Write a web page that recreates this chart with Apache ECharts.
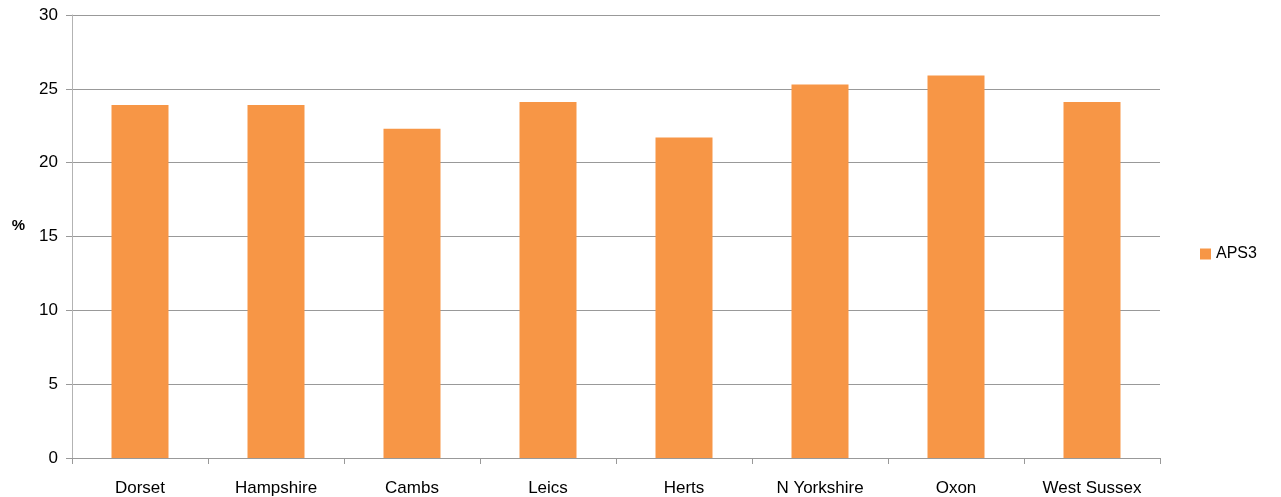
<!DOCTYPE html>
<html>
<head>
<meta charset="utf-8">
<script src="https://cdn.jsdelivr.net/npm/echarts@6/dist/echarts.min.js"></script>
<style>
html,body{margin:0;padding:0;background:#fff;}
#chart{width:1281px;height:497px;}
</style>
</head>
<body>
<div id="chart"></div>
<script>
const categories = ['Dorset', 'Hampshire', 'Cambs', 'Leics', 'Herts', 'N Yorkshire', 'Oxon', 'West Sussex'];
const aps3Values = [23.9, 23.9, 22.3, 24.1, 21.7, 25.3, 25.9, 24.1];
const seriesName = 'APS3';
const yTicks = [0, 5, 10, 15, 20, 25, 30];

const chart = echarts.init(document.getElementById('chart'), null, {renderer: 'canvas'});
const font = '"Liberation Sans", Arial, sans-serif';
chart.setOption({
  animation: false,
  backgroundColor: '#ffffff',
  grid: {left: 72, right: 121, top: 15, bottom: 39, containLabel: false},
  legend: {
    data: [seriesName],
    orient: 'vertical',
    left: 1195,
    top: 241,
    itemWidth: 11,
    itemHeight: 11,
    itemGap: 6,
    textStyle: {fontFamily: font, fontSize: 16, color: '#000'},
    icon: 'rect'
  },
  xAxis: {
    type: 'category',
    data: categories,
    axisLine: {lineStyle: {color: '#999', width: 1}},
    axisTick: {show: true, length: 6, alignWithLabel: false, lineStyle: {color: '#999'}},
    axisLabel: {fontFamily: font, fontSize: 17, color: '#000', margin: 22, interval: 0}
  },
  yAxis: {
    type: 'value',
    min: yTicks[0],
    max: yTicks[yTicks.length - 1],
    interval: 5,
    name: '%',
    nameLocation: 'middle',
    nameGap: 47,
    nameRotate: 0,
    nameTextStyle: {fontFamily: font, fontSize: 15, fontWeight: 'bold', color: '#000', verticalAlign: 'bottom', padding: [0, 0, 3, 0]},
    axisLine: {show: true, lineStyle: {color: '#b3b3b3', width: 1}},
    axisTick: {show: true, length: 6, lineStyle: {color: '#999'}},
    axisLabel: {fontFamily: font, fontSize: 17, color: '#000', margin: 14},
    splitLine: {show: true, lineStyle: {color: '#999', width: 1}}
  },
  series: [{
    name: seriesName,
    type: 'bar',
    data: aps3Values,
    barWidth: 57,
    itemStyle: {color: '#F79646'}
  }]
});
</script>
</body>
</html>
